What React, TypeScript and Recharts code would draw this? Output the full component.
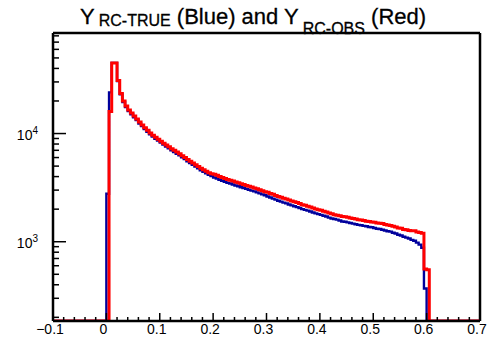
import { LineChart, Line, XAxis, YAxis, ReferenceLine } from "recharts";

// histogram binning: 0.005 wide bins, first filled bin starts at x = 0
const binWidth = 0.005;
const firstBinEdge = 0;

// Y_RC-TRUE (blue), one value per bin from x = 0.000 up to 0.600
const trueCounts = [
  2780, 24000, 45000, 45000, 30500, 23000, 19600, 17600, 16100, 15100,
  14100, 13300, 12400, 11700, 11000, 10400, 9850, 9400, 8950, 8600,
  8250, 7900, 7600, 7300, 7000, 6750, 6500, 6280, 6030, 5800,
  5550, 5350, 5150, 4950, 4760, 4580, 4430, 4290, 4160, 4050,
  3920, 3840, 3740, 3660, 3580, 3500, 3450, 3380, 3310, 3260,
  3190, 3140, 3080, 3020, 2970, 2920, 2860, 2800, 2740, 2690,
  2620, 2560, 2500, 2450, 2390, 2350, 2300, 2260, 2210, 2170,
  2130, 2090, 2050, 2000, 1970, 1940, 1900, 1860, 1830, 1800,
  1770, 1740, 1710, 1670, 1640, 1620, 1600, 1570, 1540, 1530,
  1510, 1490, 1470, 1450, 1430, 1420, 1400, 1390, 1370, 1360,
  1340, 1320, 1310, 1290, 1270, 1250, 1240, 1210, 1190, 1160,
  1140, 1110, 1090, 1070, 1040, 1020, 980, 940, 880, 370,
  0,
];

// Y_RC-OBS (red), same bins
const obsCounts = [
  0, 16000, 45000, 45000, 31000, 23500, 20000, 18000, 16500, 15500,
  14500, 13600, 12800, 12000, 11300, 10700, 10100, 9650, 9250, 8850,
  8500, 8150, 7850, 7550, 7250, 7000, 6750, 6500, 6250, 6000,
  5750, 5550, 5350, 5150, 4950, 4780, 4620, 4480, 4350, 4260,
  4200, 4120, 4010, 3930, 3850, 3770, 3700, 3640, 3560, 3500,
  3430, 3380, 3310, 3260, 3200, 3140, 3080, 3020, 2960, 2900,
  2860, 2790, 2740, 2680, 2620, 2580, 2520, 2480, 2430, 2380,
  2340, 2300, 2250, 2200, 2170, 2130, 2090, 2050, 2010, 1980,
  1950, 1910, 1880, 1840, 1810, 1780, 1760, 1740, 1710, 1700,
  1680, 1660, 1640, 1620, 1600, 1590, 1570, 1550, 1540, 1520,
  1510, 1490, 1480, 1470, 1440, 1430, 1410, 1390, 1370, 1340,
  1330, 1300, 1290, 1270, 1260, 1260, 1230, 1220, 1200, 560,
  550,
];

const xMin = -0.1;
const xMax = 0.7;
const yMin = 185;
const yMax = 85000;

const xMajorTicks = [-0.1, 0, 0.1, 0.2, 0.3, 0.4, 0.5, 0.6, 0.7];
const xTickLabels = ["\u22120.1", "0", "0.1", "0.2", "0.3", "0.4", "0.5", "0.6", "0.7"];
const yDecades = [1000, 10000];
const yDecadeExponents = ["3", "4"];

const font = "'Liberation Sans', Arial, Helvetica, sans-serif";
const blue = "#00009c";
const red = "#ff0000";

const round = (v: number) => Math.round(v * 10000) / 10000;

// 5 minor divisions between x majors
const xTicks: number[] = [];
xMajorTicks.forEach((t, i) => {
  xTicks.push(t);
  if (i < xMajorTicks.length - 1) {
    for (let k = 1; k < 5; k++) xTicks.push(round(t + k * 0.02));
  }
});

// log minor ticks 2..9 within each decade
const yTicks: number[] = [];
[100, 1000, 10000].forEach((d) => {
  for (let k = 1; k < 10; k++) {
    const v = d * k;
    if (v >= yMin && v <= yMax) yTicks.push(v);
  }
});

// empty bins sit on the bottom of the frame, like ROOT does on a log axis
const floor = (v: number) => (v > 0 ? v : yMin);

const rows: { x: number; blue: number; red: number }[] = [{ x: xMin, blue: yMin, red: yMin }];
trueCounts.forEach((v, i) => {
  rows.push({ x: round(firstBinEdge + i * binWidth), blue: floor(v), red: floor(obsCounts[i]) });
});
rows.push({ x: round(firstBinEdge + trueCounts.length * binWidth), blue: yMin, red: yMin });
rows.push({ x: xMax, blue: yMin, red: yMin });

const XTick = ({ x, y, payload }: any) => {
  const idx = xMajorTicks.findIndex((t) => Math.abs(t - payload.value) < 1e-6);
  const major = idx >= 0;
  return (
    <g>
      <line x1={x} x2={x} y1={y} y2={y - (major ? 8 : 4)} stroke="#000" strokeWidth={1.5} />
      {major && (
        <text x={x - 3} y={y + 13} textAnchor="middle" fontSize={14} fontFamily={font} fill="#000">
          {xTickLabels[idx]}
        </text>
      )}
    </g>
  );
};

const YTick = ({ x, y, payload }: any) => {
  const idx = yDecades.indexOf(payload.value);
  const major = idx >= 0;
  return (
    <g>
      <line x1={x} x2={x + (major ? 13 : 6)} y1={y} y2={y} stroke="#000" strokeWidth={1.5} />
      {major && (
        <text x={x - 15} y={y + 6} textAnchor="end" fontSize={14} fontFamily={font} fill="#000">
          10
          <tspan dy={-6} fontSize={10}>{yDecadeExponents[idx]}</tspan>
        </text>
      )}
    </g>
  );
};

const App = () => (
  <div style={{ position: "absolute", left: 0, top: 0, width: 487, height: 338, background: "#fff" }}>
    <LineChart width={487} height={338} data={rows} margin={{ top: 33, right: 7, bottom: 0, left: 0 }}>
      <XAxis
        dataKey="x"
        type="number"
        domain={[xMin, xMax]}
        ticks={xTicks}
        interval={0}
        allowDataOverflow
        height={17}
        tickSize={0}
        tickMargin={0}
        tickLine={false}
        tick={<XTick />}
        axisLine={{ stroke: "#000", strokeWidth: 2.5 }}
      />
      <YAxis
        scale="log"
        domain={[yMin, yMax]}
        ticks={yTicks}
        interval={0}
        allowDataOverflow
        width={53}
        tickSize={0}
        tickMargin={0}
        tickLine={false}
        tick={<YTick />}
        axisLine={{ stroke: "#000", strokeWidth: 2.5 }}
      />
      <ReferenceLine y={yMax} stroke="#000" strokeWidth={2.5} />
      <ReferenceLine x={xMax} stroke="#000" strokeWidth={2.5} />
      <Line dataKey="blue" type="stepAfter" stroke={blue} strokeWidth={2.4} dot={false} isAnimationActive={false} />
      <Line dataKey="red" type="stepAfter" stroke={red} strokeWidth={3} dot={false} isAnimationActive={false} />
    </LineChart>
    <svg width={487} height={45} style={{ position: "absolute", left: 0, top: 0, pointerEvents: "none" }}>
      <text x={80} y={24} fontFamily={font} fontSize={22} fill="#000" stroke="#000" strokeWidth={0.3}>
        Y
        <tspan dx={4} dy={2} fontSize={16}>RC-TRUE</tspan>
        <tspan dy={-2} fontSize={22}>{" (Blue) and Y"}</tspan>
        <tspan dx={4} dy={10} fontSize={16}>RC-OBS</tspan>
        <tspan dy={-10} fontSize={22}>{" (Red)"}</tspan>
      </text>
    </svg>
  </div>
);

export default App;
